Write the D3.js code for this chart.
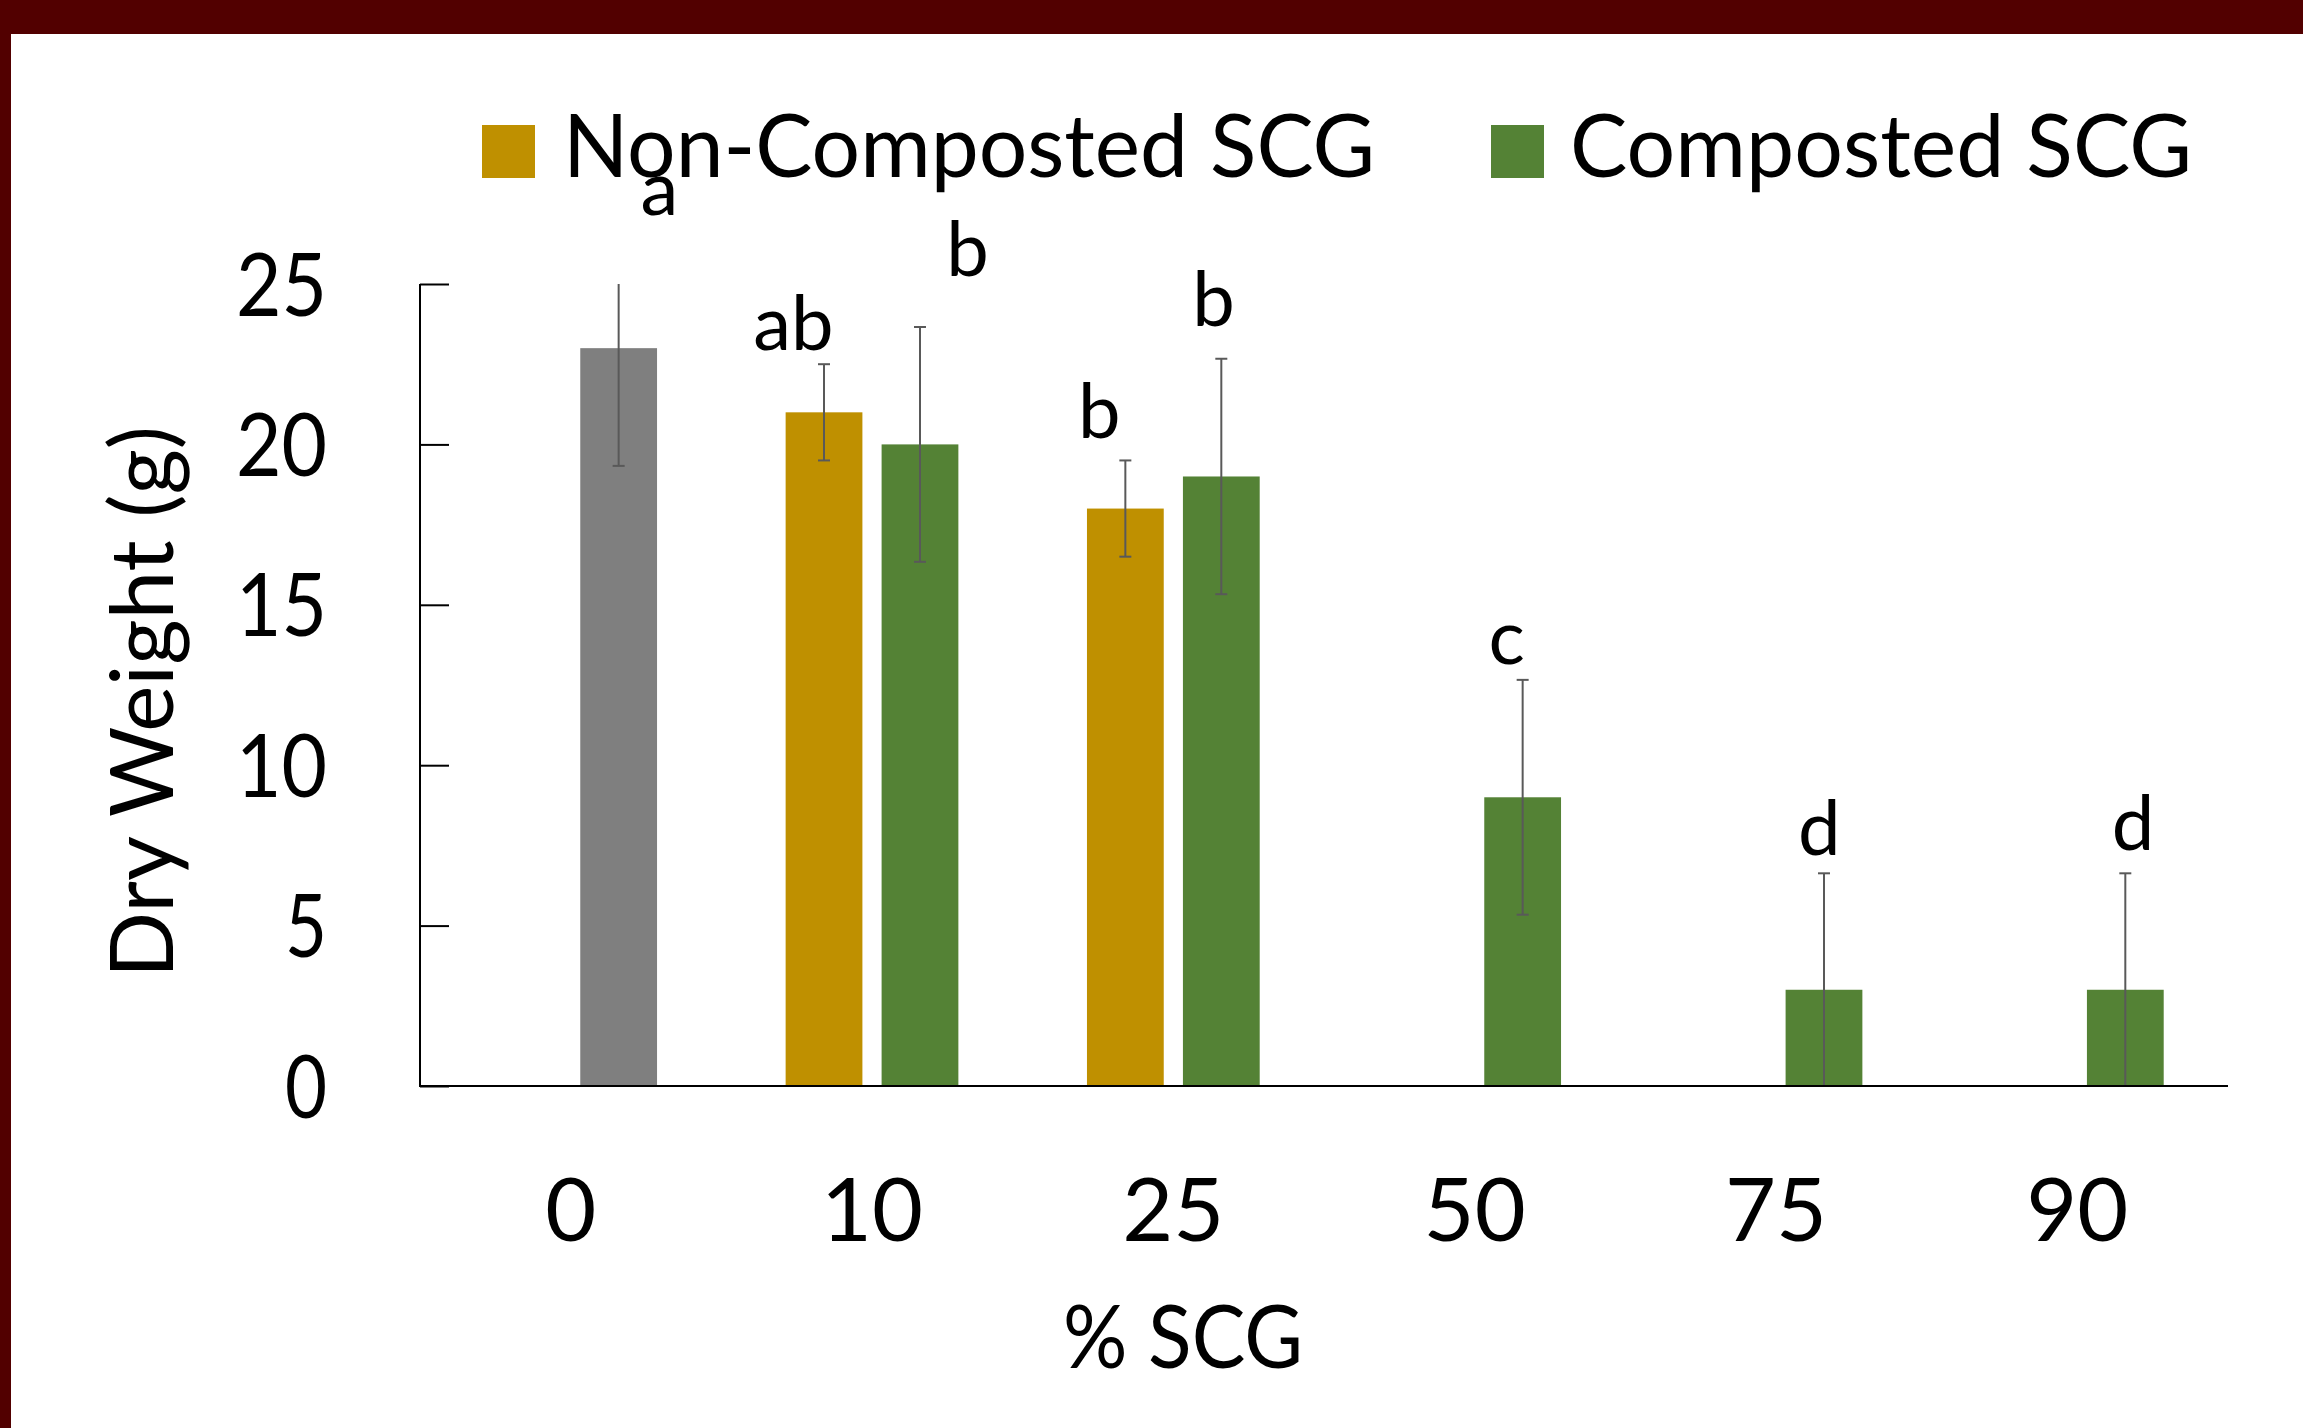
<!DOCTYPE html>
<html>
<head>
<meta charset="utf-8">
<script src="https://cdn.jsdelivr.net/npm/d3@7"></script>
<style>
  html, body { margin: 0; padding: 0; background: #fff; }
  svg { display: block; }
  text { font-family: Lato, "Open Sans", sans-serif; fill: #000; }
</style>
</head>
<body>
<div id="chart"></div>
<script>
// data
var categories = ["0", "10", "25", "50", "75", "90"];
var seriesNames = ["Non-Composted SCG", "Composted SCG"];
var nonComposted = [null, 21, 18, null, null, null];
var nonCompostedErr = [null, 1.5, 1.5, null, null, null];
var composted = [23, 20, 19, 9, 3, 3];
var compostedErr = [3.67, 3.66, 3.67, 3.66, 3.63, 3.63];
var controlCategory = "0";   // the 0 % bar is the control (drawn grey)
var yTicks = [0, 5, 10, 15, 20, 25];

// significance letters: category, series index, letter, height (g), sideways nudge (bar widths)
var letterCats = ["0", "10", "10", "25", "25", "50", "75", "90"];
var letterSeries = [1, 0, 1, 0, 1, 1, 1, 1];
var letterText = ["a", "ab", "b", "b", "b", "c", "d", "d"];
var letterAt = [27.15, 22.95, 25.25, 20.2, 23.7, 13.15, 7.2, 7.35];
var letterNudge = [0.53, -0.4, 0.62, -0.34, -0.1, -0.21, -0.06, 0.1];

var colors = { "Non-Composted SCG": "#BF9000", "Composted SCG": "#548235", control: "#7F7F7F" };

var W = 2303, H = 1428;
var svg = d3.select("#chart").append("svg").attr("width", W).attr("height", H);

svg.append("rect").attr("width", W).attr("height", H).attr("fill", "#fff");
// slide frame
svg.append("rect").attr("x", 0).attr("y", 0).attr("width", W).attr("height", 34).attr("fill", "#520000");
svg.append("rect").attr("x", 0).attr("y", 0).attr("width", 11).attr("height", H).attr("fill", "#520000");

var x0 = d3.scaleBand().domain(categories).range([420, 2228]);
var x1 = d3.scaleBand().domain(seriesNames).range([0, x0.bandwidth()]).paddingInner(0.2).paddingOuter(0.67);
var y = d3.scaleLinear().domain([0, 25]).range([1086, 284]);

var rows = [];
categories.forEach(function (c, i) {
  if (nonComposted[i] != null) rows.push({ cat: c, s: seriesNames[0], v: nonComposted[i], e: nonCompostedErr[i] });
  if (composted[i] != null) rows.push({ cat: c, s: seriesNames[1], v: composted[i], e: compostedErr[i] });
});

var g = svg.append("g");

g.selectAll("rect.bar")
  .data(rows)
  .enter().append("rect")
  .attr("class", "bar")
  .attr("x", function (d) { return x0(d.cat) + x1(d.s); })
  .attr("y", function (d) { return y(d.v); })
  .attr("width", x1.bandwidth())
  .attr("height", function (d) { return y(0) - y(d.v); })
  .attr("fill", function (d) { return d.cat === controlCategory ? colors.control : colors[d.s]; });

// error bars, clipped to the axis range like the original
var cx = function (d) { return x0(d.cat) + x1(d.s) + x1.bandwidth() / 2; };
var capW = 6;
var eb = g.selectAll("g.err").data(rows).enter().append("g").attr("class", "err")
  .attr("stroke", "#595959").attr("stroke-width", 2);
eb.append("line")
  .attr("x1", cx).attr("x2", cx)
  .attr("y1", function (d) { return y(Math.min(25, d.v + d.e)); })
  .attr("y2", function (d) { return y(Math.max(0, d.v - d.e)); });
eb.filter(function (d) { return d.v + d.e <= 25; }).append("line")
  .attr("x1", function (d) { return cx(d) - capW; }).attr("x2", function (d) { return cx(d) + capW; })
  .attr("y1", function (d) { return y(d.v + d.e); }).attr("y2", function (d) { return y(d.v + d.e); });
eb.filter(function (d) { return d.v - d.e >= 0; }).append("line")
  .attr("x1", function (d) { return cx(d) - capW; }).attr("x2", function (d) { return cx(d) + capW; })
  .attr("y1", function (d) { return y(d.v - d.e); }).attr("y2", function (d) { return y(d.v - d.e); });

// axes
var yAxis = d3.axisRight(y).tickValues(yTicks).tickSize(29).tickFormat("");
var ya = svg.append("g").attr("transform", "translate(420,0)").call(yAxis);
ya.select(".domain").remove();
ya.selectAll(".tick line").attr("stroke", "#000").attr("stroke-width", 2);
svg.append("line").attr("x1", 420).attr("x2", 420).attr("y1", y(25)).attr("y2", y(0))
  .attr("stroke", "#000").attr("stroke-width", 2);
svg.append("line").attr("x1", 419).attr("x2", 2228).attr("y1", y(0)).attr("y2", y(0))
  .attr("stroke", "#000").attr("stroke-width", 2);

svg.selectAll("text.ytick").data(yTicks).enter().append("text")
  .attr("class", "ytick")
  .attr("x", 327).attr("y", function (d) { return y(d); }).attr("dy", "0.36em")
  .attr("text-anchor", "end").attr("font-size", 88)
  .attr("textLength", function (d) { return String(d).length > 1 ? 91 : 42; })
  .attr("lengthAdjust", "spacingAndGlyphs")
  .text(function (d) { return d; });

svg.selectAll("text.xtick").data(categories).enter().append("text")
  .attr("class", "xtick")
  .attr("x", function (d) { return x0(d) + x0.bandwidth() / 2; }).attr("y", 1241)
  .attr("text-anchor", "middle").attr("font-size", 88)
  .text(function (d) { return d; });

svg.append("text").attr("x", 1183).attr("y", 1368).attr("text-anchor", "middle")
  .attr("font-size", 88).attr("textLength", 240).attr("lengthAdjust", "spacingAndGlyphs")
  .text("% SCG");

svg.append("text").attr("transform", "translate(173,702) rotate(-90)").attr("text-anchor", "middle")
  .attr("font-size", 88).attr("textLength", 552).attr("lengthAdjust", "spacingAndGlyphs")
  .text("Dry Weight (g)");

// significance letters
svg.selectAll("text.letter").data(letterText).enter().append("text")
  .attr("class", "letter")
  .attr("x", function (d, i) {
    var s = seriesNames[letterSeries[i]];
    return x0(letterCats[i]) + x1(s) + x1.bandwidth() * (0.5 + letterNudge[i]);
  })
  .attr("y", function (d, i) { return y(letterAt[i]); })
  .attr("text-anchor", "middle").attr("font-size", 76)
  .text(function (d) { return d; });

// legend
var legX = [482, 1491], legTextX = [563, 1570], legLen = [812, 622];
var leg = svg.selectAll("g.leg").data(seriesNames).enter().append("g").attr("class", "leg");
leg.append("rect")
  .attr("x", function (d, i) { return legX[i]; }).attr("y", 125)
  .attr("width", 53).attr("height", 53)
  .attr("fill", function (d) { return colors[d]; });
leg.append("text")
  .attr("x", function (d, i) { return legTextX[i]; }).attr("y", 177)
  .attr("font-size", 88)
  .attr("textLength", function (d, i) { return legLen[i]; })
  .attr("lengthAdjust", "spacingAndGlyphs")
  .text(function (d) { return d; });
</script>
</body>
</html>
